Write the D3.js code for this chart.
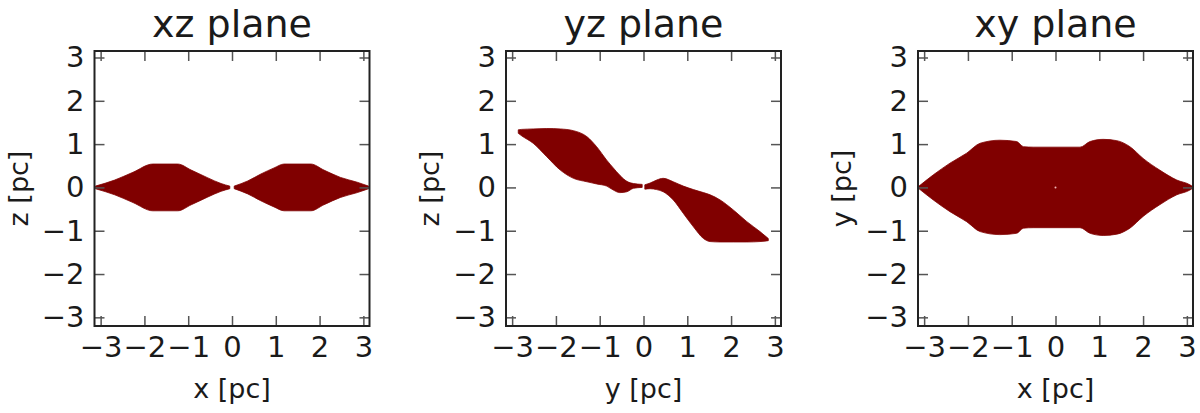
<!DOCTYPE html>
<html>
<head>
<meta charset="utf-8">
<script src="https://cdn.jsdelivr.net/npm/d3@7/dist/d3.min.js"></script>
<style>
  html, body { margin: 0; padding: 0; background: #fff; }
  svg { display: block; }
  text { font-family: "DejaVu Sans", sans-serif; fill: #1a1a1a; }
</style>
</head>
<body>
<svg id="chart" width="1200" height="413"></svg>
<script>
// ---------- data ----------
const panelTitles = ["xz plane", "yz plane", "xy plane"];
const xLabels = ["x [pc]", "y [pc]", "x [pc]"];
const yLabels = ["z [pc]", "z [pc]", "y [pc]"];
const tickValues = [-3, -2, -1, 0, 1, 2, 3];
const tickLabels = ["\u22123", "\u22122", "\u22121", "0", "1", "2", "3"];

// xz plane: two lobes (x, upper z, lower z)
const xzLeftX  = [-3.12, -2.68, -2.26, -1.81, -1.24, -0.93, -0.55, -0.25, -0.05];
const xzLeftHi = [0.03, 0.17, 0.35, 0.54, 0.54, 0.40, 0.22, 0.09, 0.03];
const xzLeftLo = [-0.03, -0.17, -0.35, -0.54, -0.54, -0.40, -0.22, -0.09, -0.03];
const xzRightX  = [0.05, 0.36, 0.66, 0.96, 1.19, 1.80, 2.10, 2.48, 2.86, 3.12];
const xzRightHi = [0.03, 0.15, 0.31, 0.45, 0.54, 0.54, 0.40, 0.23, 0.12, 0.03];
const xzRightLo = [-0.03, -0.15, -0.31, -0.45, -0.54, -0.54, -0.40, -0.23, -0.12, -0.03];

// yz plane: two tilted parts (y, upper z, lower z)
const yzLeftX  = [-2.86, -2.78, -2.52, -2.21, -1.90, -1.60, -1.29, -1.07, -0.84, -0.69, -0.54, -0.38, -0.23, -0.03];
const yzLeftHi = [1.33, 1.34, 1.35, 1.36, 1.35, 1.31, 1.17, 0.94, 0.63, 0.45, 0.28, 0.14, 0.09, 0.07];
const yzLeftLo = [1.25, 1.19, 1.02, 0.71, 0.40, 0.21, 0.13, 0.08, 0.03, -0.06, -0.12, -0.10, -0.02, 0.00];
const yzRightX  = [0.03, 0.15, 0.30, 0.45, 0.68, 0.91, 1.14, 1.37, 1.52, 1.75, 2.05, 2.36, 2.66, 2.85];
const yzRightHi = [0.06, 0.10, 0.17, 0.21, 0.13, 0.03, -0.05, -0.12, -0.17, -0.29, -0.52, -0.79, -1.02, -1.18];
const yzRightLo = [-0.04, -0.03, -0.05, -0.10, -0.29, -0.60, -0.91, -1.18, -1.25, -1.26, -1.26, -1.26, -1.25, -1.23];

// xy plane: one body (x, upper y, lower y)
const xyX  = [-3.13, -2.79, -2.41, -2.03, -1.72, -1.27, -0.89, -0.73, -0.51, 0.56, 0.79, 1.09, 1.40, 1.70, 2.00, 2.38, 2.77, 3.07, 3.13];
const xyHi = [0.02, 0.29, 0.56, 0.79, 1.02, 1.09, 1.06, 0.94, 0.93, 0.93, 1.06, 1.11, 1.08, 0.94, 0.67, 0.40, 0.17, 0.06, 0.02];
const xyLo = [-0.02, -0.29, -0.56, -0.79, -1.02, -1.09, -1.06, -0.94, -0.93, -0.93, -1.06, -1.11, -1.08, -0.94, -0.67, -0.40, -0.17, -0.06, -0.02];
const xyHole = [[0, 0]];

// ---------- layout ----------
const svg = d3.select("#chart");
const panelLefts = [94.5, 506, 918];
const boxTop = 51, boxSize = 275;
const xDomain = [-3.14, 3.14];
const yDomain = [-3.2, 3.15];
const fillColor = "#800000";

const zip = (xs, hi, lo) => xs.map((x, i) => ({ x: x, hi: hi[i], lo: lo[i] }));
const shapes = [
  [zip(xzLeftX, xzLeftHi, xzLeftLo), zip(xzRightX, xzRightHi, xzRightLo)],
  [zip(yzLeftX, yzLeftHi, yzLeftLo), zip(yzRightX, yzRightHi, yzRightLo)],
  [zip(xyX, xyHi, xyLo)]
];

panelLefts.forEach((left, p) => {
  const x = d3.scaleLinear().domain(xDomain).range([0, boxSize]);
  const y = d3.scaleLinear().domain(yDomain).range([boxSize, 0]);
  const g = svg.append("g").attr("transform", `translate(${left},${boxTop})`);

  g.append("clipPath").attr("id", "clip" + p)
    .append("rect").attr("width", boxSize).attr("height", boxSize);

  const area = d3.area()
    .x(d => x(d.x)).y0(d => y(d.lo)).y1(d => y(d.hi))
    .curve(d3.curveMonotoneX);

  const plot = g.append("g").attr("clip-path", `url(#clip${p})`);
  shapes[p].forEach(s => {
    plot.append("path").attr("d", area(s))
      .attr("fill", fillColor)
      .attr("stroke", fillColor).attr("stroke-width", 0.8)
      .attr("stroke-linejoin", "round");
  });
  if (p === 2) {
    plot.selectAll("circle.hole").data(xyHole).enter().append("circle")
      .attr("cx", d => x(d[0])).attr("cy", d => y(d[1])).attr("r", 1)
      .attr("fill", "#f2b8b8");
  }

  const fmt = d => tickLabels[tickValues.indexOf(d)];
  const styleAxis = sel => {
    sel.select(".domain").remove();
    sel.selectAll(".tick line").attr("stroke", "#555").attr("stroke-width", 1.5);
    sel.selectAll(".tick text").style("font-family", '"DejaVu Sans", sans-serif')
      .style("font-size", "29px").attr("fill", "#1a1a1a");
  };

  g.append("g").attr("transform", `translate(0,${boxSize})`)
    .call(d3.axisBottom(x).tickValues(tickValues).tickFormat(fmt)
      .tickSizeInner(-10).tickSizeOuter(0).tickPadding(10))
    .call(styleAxis);
  g.append("g")
    .call(d3.axisTop(x).tickValues(tickValues).tickFormat("")
      .tickSizeInner(-10).tickSizeOuter(0))
    .call(styleAxis);
  g.append("g")
    .call(d3.axisLeft(y).tickValues(tickValues).tickFormat(fmt)
      .tickSizeInner(-10).tickSizeOuter(0).tickPadding(10))
    .call(styleAxis);
  g.append("g").attr("transform", `translate(${boxSize},0)`)
    .call(d3.axisRight(y).tickValues(tickValues).tickFormat("")
      .tickSizeInner(-10).tickSizeOuter(0))
    .call(styleAxis);

  g.append("rect").attr("width", boxSize).attr("height", boxSize)
    .attr("fill", "none").attr("stroke", "#222").attr("stroke-width", 2);

  g.append("text").attr("x", boxSize / 2).attr("y", 37 - boxTop)
    .attr("text-anchor", "middle").style("font-size", "38px")
    .text(panelTitles[p]);

  g.append("text").attr("x", boxSize / 2).attr("y", 398 - boxTop)
    .attr("text-anchor", "middle").style("font-size", "27px")
    .text(xLabels[p]);

  g.append("text")
    .attr("transform", `translate(-67,${boxSize / 2}) rotate(-90)`)
    .attr("text-anchor", "middle").style("font-size", "27px")
    .text(yLabels[p]);
});
</script>
</body>
</html>
